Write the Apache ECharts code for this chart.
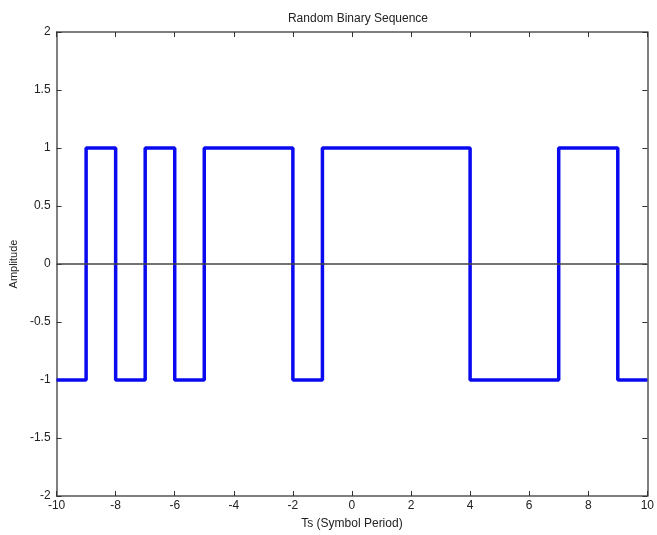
<!DOCTYPE html>
<html><head><meta charset="utf-8">
<script src="https://cdn.jsdelivr.net/npm/echarts@6/dist/echarts.min.js"></script>
<style>html,body{margin:0;padding:0;background:#fff}#c{width:657px;height:535px}</style>
</head><body><div id="c"></div>
<script>
const edges = [-10,-9,-8,-7,-6,-5,-2,-1,4,7,9,10];
const levels = [-1,1,-1,1,-1,1,-1,1,-1,1,-1,-1];
const xTicks = [-10,-8,-6,-4,-2,0,2,4,6,8,10];
const yTicks = [-2,-1.5,-1,-0.5,0,0.5,1,1.5,2];

const data = edges.map((x,i)=>[x, levels[i]]);
const font = 'Liberation Sans, Arial, sans-serif';
const axisCol = '#555';
const chart = echarts.init(document.getElementById('c'));
const commonX = {type:'value', min:-10, max:10, interval:2, splitLine:{show:false},
  axisLine:{show:true, onZero:false, lineStyle:{color:axisCol, width:1.5}},
  axisTick:{show:true, inside:true, length:5, lineStyle:{color:'#333'}}};
const commonY = {type:'value', min:-2, max:2, interval:0.5, splitLine:{show:false},
  axisLine:{show:true, onZero:false, lineStyle:{color:axisCol, width:1.5}},
  axisTick:{show:true, inside:true, length:5, lineStyle:{color:'#333'}}};
chart.setOption({
  animation:false,
  title:{text:'Random Binary Sequence', left:353, top:8, textAlign:'center',
    textStyle:{fontFamily:font, fontSize:12, fontWeight:'normal', color:'#222'}},
  grid:{left:56, right:6, top:32, bottom:34},
  xAxis:[
    Object.assign({}, commonX, {position:'bottom', name:'Ts (Symbol Period)', nameLocation:'middle', nameGap:22,
      nameTextStyle:{fontFamily:font, fontSize:12, color:'#222'},
      axisLabel:{fontFamily:font, fontSize:12, color:'#222', margin:4}}),
    Object.assign({}, commonX, {position:'top', axisLabel:{show:false}})
  ],
  yAxis:[
    Object.assign({}, commonY, {position:'left', name:'Amplitude', nameLocation:'middle', nameGap:34,
      nameTextStyle:{fontFamily:font, fontSize:11, color:'#222'},
      axisLabel:{fontFamily:font, fontSize:12, color:'#222', margin:6}}),
    Object.assign({}, commonY, {position:'right', axisLabel:{show:false}})
  ],
  series:[{
    type:'line', step:'end', data:data, showSymbol:false, symbol:'none',
    lineStyle:{color:'#0a0af0', width:3.5},
    markLine:{silent:true, symbol:['none','none'], label:{show:false},
      lineStyle:{color:'#444', width:1.5, type:'solid'}, data:[{yAxis:0}]},
    z:3
  }]
});
</script></body></html>
